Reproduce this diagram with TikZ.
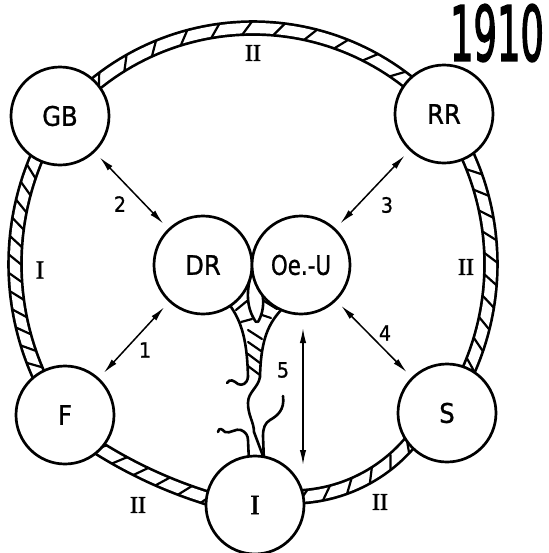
\documentclass[tikz,border=0pt]{standalone}
\usepackage{fontspec}
\setsansfont{DejaVu Sans Condensed}
\newfontfamily\lettfont{DejaVu Sans Condensed}[FakeBold=1]
\newfontfamily\yearfont{DejaVu Sans Condensed}[FakeBold=2.5]
\newfontfamily\romanfont{Liberation Serif}[FakeBold=1.5]
\usetikzlibrary{arrows.meta,decorations.markings}
\begin{document}
\begin{tikzpicture}[x=0.5pt,y=-0.5pt,
  country/.style={circle,draw,line width=1.35pt,fill=white,minimum size=49pt,inner sep=0pt,font=\lettfont\fontsize{13.5}{15}\selectfont},
  band/.style={line width=1.35pt,double=white,double distance=5.1pt},
  hatch/.style={decorate,decoration={markings,mark=between positions 0 and 1 step #1 with {\draw[line width=1.1pt] (-2.6pt,-3.3pt) -- (2.6pt,3.3pt);}}},
  rel/.style={line width=0.75pt,{Latex[length=7.5pt,width=3.2pt]}-{Latex[length=7.5pt,width=3.2pt]},shorten <=3.5pt,shorten >=3.5pt},
  num/.style={font=\lettfont\fontsize{10.5}{12}\selectfont},
  roman/.style={font=\romanfont\fontsize{12}{14}\selectfont},
  rope/.style={line width=1.3pt,line cap=round,line join=round},
  twist/.style={line width=1.1pt,line cap=round}
]
\useasboundingbox (0,0) rectangle (548,553);

% ring segments
\def\segtop{plot[domain=40:140,samples=60] ({253+250*cos(\x)},{278-250*sin(\x)})}
\def\segleft{plot[domain=145:216,samples=60] ({287.5+272.5*cos(\x)},{264-272.5*sin(\x)})}
\def\segright{plot[domain=-37:37,samples=60] ({228+263*cos(\x)},{264-263*sin(\x)})}
\def\segbl{plot[domain=125:103,samples=40] ({345.7+465.3*cos(\x)},{53.8+465.3*sin(\x)})}
\def\segbr{plot[domain=95:35,samples=40] ({292.2+154.6*cos(\x)},{342.4+154.6*sin(\x)})}

\draw[band] \segtop;   \path[hatch=16pt] \segtop;
\draw[band] \segleft;  \path[hatch=9pt] \segleft;
\draw[band] \segright; \path[hatch=11pt] \segright;
\draw[band] \segbl;    \path[hatch=12pt] \segbl;
\draw[band] \segbr;    \path[hatch=12pt] \segbr;

% rope between DR / Oe-U and I (upper braided part)
\draw[rope] (226,300) .. controls (240,318) and (247,335) .. (248,377);
\draw[rope] (288,303) .. controls (270,320) and (261,335) .. (260,377);
\draw[rope] (252,272) .. controls (246,290) and (246,308) .. (256,322);
\draw[rope] (253,272) .. controls (265,290) and (266,308) .. (258,322);
\draw[twist] (236,310) -- (247,301);
\draw[twist] (241,322) -- (252,319);
\draw[twist] (264,301) -- (277,309);
\draw[twist] (262,315) -- (271,318);
\draw[twist] (248,330) -- (262,339);
\draw[twist] (248,342) -- (261,351);
\draw[twist] (248,354) -- (260,363);
\draw[twist] (248,366) -- (260,375);
% loose strands
\draw[rope] (248,377) .. controls (247,384) and (242,386) .. (238,384) .. controls (234,381) and (230,378) .. (227,383);
\draw[rope] (260,377) .. controls (258,388) and (248,392) .. (248,403) .. controls (248,416) and (254,422) .. (254,432) -- (263,456);
\draw[rope] (283,396) .. controls (285,410) and (277,416) .. (270,420) .. controls (265,423) and (263,428) .. (263,436) -- (264,462);
\draw[rope] (218,432) .. controls (219,427) and (222,429) .. (225,432) .. controls (230,434) and (236,428) .. (241,430) .. controls (246,432) and (248,436) .. (248,440) -- (249,462);

% countries
\node[country] (GB) at (60,116) {GB};
\node[country] (RR) at (444,114) {RR};
\node[country] (DR) at (203,265) {DR};
\node[country] (OeU) at (301,265) {\scalebox{0.88}[1]{Oe.-U}};
\node[country] (F) at (65,415) {F};
\node[country] (S) at (447,413) {S};
\node[country,font=\romanfont\fontsize{14}{16}\selectfont] (I) at (255,505) {I};

% relations
\draw[rel] (GB) -- (DR);
\draw[rel] (F) -- (DR);
\draw[rel] (RR) -- (OeU);
\draw[rel] (OeU) -- (S);
\coordinate (a5t) at (303,328);
\coordinate (a5b) at (303,465);
\draw[rel,shorten <=0pt,shorten >=0pt] (a5t) -- (a5b);

\node[num] (n1) at (145,350) {1};
\node[num] (n2) at (120,204) {2};
\node[num] (n3) at (387,205) {3};
\node[num] (n4) at (385,333) {4};
\node[num] (n5) at (283,370) {5};

\node[roman] (rtop) at (253,53) {II};
\node[roman,font=\romanfont\fontsize{13}{15}\selectfont] (rleft) at (40,270) {I};
\node[roman] (rright) at (466,267) {II};
\node[roman] (rbl) at (138,505) {II};
\node[roman] (rbr) at (380,502) {II};

\node[font=\yearfont\fontsize{38}{40}\selectfont] (year) at (497,33) {\scalebox{0.54}[1]{1910}};
\end{tikzpicture}
\end{document}
